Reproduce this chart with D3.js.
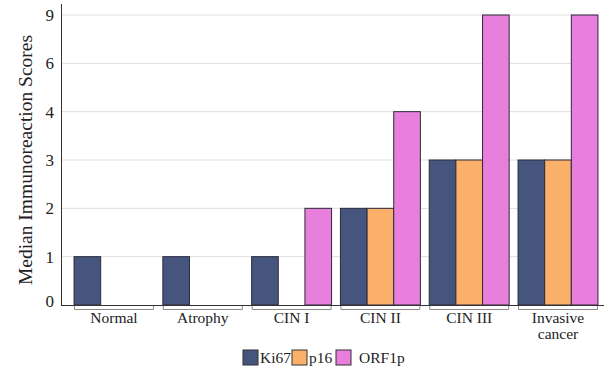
<!DOCTYPE html>
<html><head><meta charset="utf-8">
<script src="https://cdn.jsdelivr.net/npm/d3@7"></script>
<style>body{margin:0;background:#fff}svg{display:block}text{font-family:"Liberation Serif","DejaVu Serif",serif;fill:#222}</style>
</head><body>
<script>
const categories = ["Normal","Atrophy","CIN I","CIN II","CIN III","Invasive cancer"];
const seriesNames = ["Ki67","p16","ORF1p"];
const ki67  = [1,1,1,2,3,3];
const p16   = [0,0,0,2,3,3];
const orf1p = [0,0,2,4,9,9];
const yTicks = ["0","1","2","3","4","6","9"];
const colors = ["#46557e","#fbb06a","#e97fdc"];

const W=610,H=369;
const svg=d3.select("body").append("svg").attr("width",W).attr("height",H);
const x=d3.scaleBand().domain(categories).range([69.6,602.4]).paddingInner(0.1).paddingOuter(0.05);
const xs=d3.scaleBand().domain(seriesNames).range([0,x.bandwidth()]);
const y=d3.scalePoint().domain(yTicks).range([305,15]);
const series=[ki67,p16,orf1p];

// gridlines
svg.append("g").selectAll("line").data(yTicks.slice(1)).join("line")
  .attr("x1",62).attr("x2",598).attr("y1",d=>y(d)).attr("y2",d=>y(d))
  .attr("stroke","#dedede").attr("stroke-width",1);

// bars
const bars=[];
categories.forEach((c,i)=>series.forEach((s,j)=>bars.push({c,k:seriesNames[j],v:s[i],col:colors[j]})));
svg.append("g").selectAll("rect").data(bars.filter(d=>d.v>0)).join("rect")
  .attr("x",d=>x(d.c)+xs(d.k)).attr("width",xs.bandwidth())
  .attr("y",d=>y(String(d.v))).attr("height",d=>y("0")-y(String(d.v)))
  .attr("fill",d=>d.col).attr("stroke","#2b2b3b").attr("stroke-width",1);

// axes lines
svg.append("line").attr("x1",61.5).attr("x2",61.5).attr("y1",4).attr("y2",305).attr("stroke","#333");
svg.append("line").attr("x1",61).attr("x2",604).attr("y1",305.5).attr("y2",305.5).attr("stroke","#333");

// brackets
svg.append("g").selectAll("path").data(categories).join("path")
  .attr("d",d=>`M${x(d)+0.5},306V309.5H${x(d)+x.bandwidth()-0.5}V306`)
  .attr("fill","none").attr("stroke","#8a8a8a").attr("stroke-width",1);

// y tick labels
svg.append("g").selectAll("text").data(yTicks).join("text")
  .attr("x",54).attr("y",d=>y(d)-(d==="0"?4:0)).attr("dy","0.35em").attr("text-anchor","end")
  .attr("font-size",17).text(d=>d);

// x labels (multi-word label split into separate lines)
const xLines=[];
categories.forEach(c=>{
  const words=c==="Invasive cancer"?["Invasive","cancer"]:[c];
  words.forEach((w,i)=>xLines.push({c,w,i}));
});
svg.append("g").selectAll("text").data(xLines).join("text")
  .attr("x",d=>x(d.c)+x.bandwidth()/2).attr("y",d=>323+d.i*15.5)
  .attr("text-anchor","middle").attr("font-size",15.5).text(d=>d.w);

// y title
svg.append("text").attr("transform","translate(32,160) rotate(-90)").attr("text-anchor","middle")
  .attr("font-size",19.5).text("Median Immunoreaction Scores");

// legend
const lg=svg.append("g");
const lx=[243,292,336], tx=[260,309,359];
seriesNames.forEach((n,i)=>{
  lg.append("rect").attr("x",lx[i]).attr("y",350).attr("width",15).attr("height",15)
    .attr("fill",colors[i]).attr("stroke","#333");
  lg.append("text").attr("x",tx[i]).attr("y",363).attr("font-size",15.5).text(n);
});
</script>
</body></html>
